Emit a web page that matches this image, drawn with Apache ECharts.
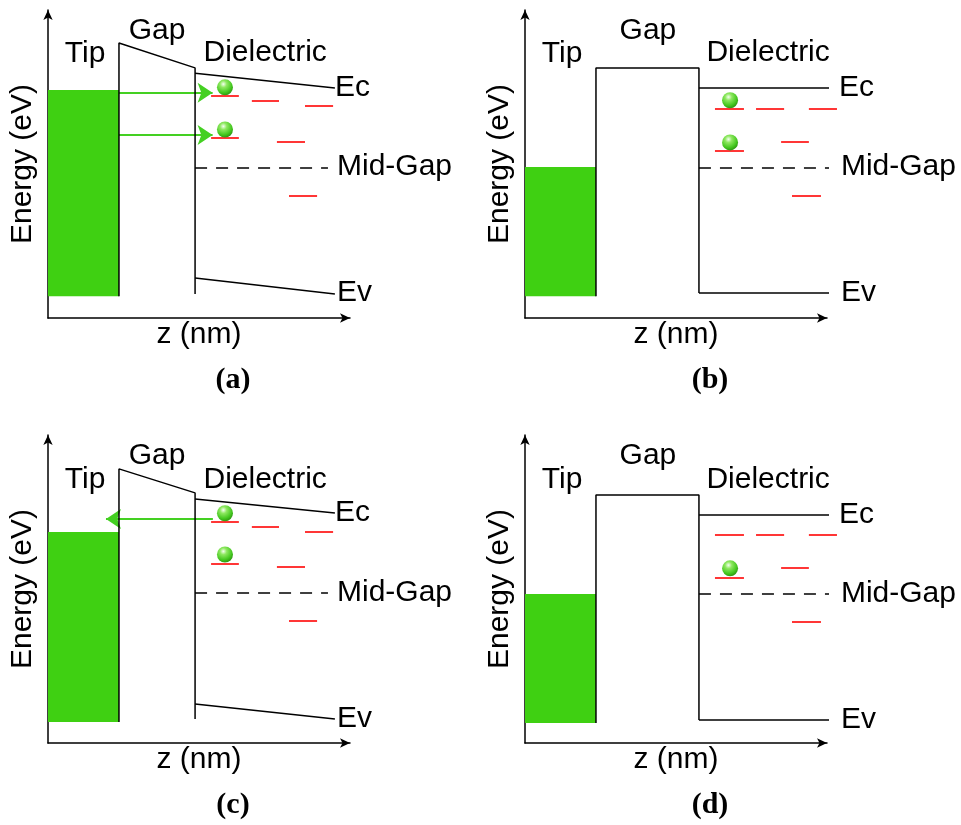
<!DOCTYPE html>
<html>
<head>
<meta charset="utf-8">
<script src="https://cdn.jsdelivr.net/npm/echarts@6/dist/echarts.min.js"></script>
<style>
html, body { margin: 0; padding: 0; background: #fff; }
#chart { width: 961px; height: 825px; }
</style>
</head>
<body>
<div id="chart"></div>
<script>
// panel order: (a) (b) (c) (d); z in arbitrary nm units 0..10, energy 0..10 eV
const panelNames = ['(a)', '(b)', '(c)', '(d)'];

// tip band: [x right edge, bottom, Fermi level]
const tipBand = [[2.35, 0.71, 7.40], [2.35, 0.71, 4.90], [2.35, 0.68, 6.85], [2.35, 0.65, 4.84]];

// vacuum barrier outline (left wall, top, right wall)
const barrier = [
  [[2.35, 0.71], [2.35, 8.93], [4.87, 8.12], [4.87, 0.78]],
  [[2.35, 0.71], [2.35, 8.12], [5.76, 8.12], [5.76, 0.81]],
  [[2.35, 0.68], [2.35, 8.90], [4.87, 8.12], [4.87, 0.78]],
  [[2.35, 0.65], [2.35, 8.05], [5.76, 8.05], [5.76, 0.75]]
];

const ecLine = [
  [[4.87, 7.95], [9.50, 7.47]],
  [[5.76, 7.47], [10.33, 7.47]],
  [[4.87, 7.92], [9.50, 7.47]],
  [[5.76, 7.40], [10.33, 7.40]]
];
const evLine = [
  [[4.87, 1.30], [9.50, 0.78]],
  [[5.76, 0.81], [10.33, 0.81]],
  [[4.87, 1.27], [9.50, 0.78]],
  [[5.76, 0.75], [10.33, 0.75]]
];
const midGapLine = [
  [[4.87, 4.87], [9.27, 4.87]],
  [[5.76, 4.87], [10.17, 4.87]],
  [[4.87, 4.87], [9.27, 4.87]],
  [[5.76, 4.84], [10.17, 4.84]]
];

// trap levels: [x start, x end, energy]
const traps = [
  [[5.40, 6.32, 7.21], [6.75, 7.65, 7.05], [8.51, 9.44, 6.88], [5.40, 6.32, 5.84], [7.58, 8.51, 5.71], [7.98, 8.91, 3.96]],
  [[6.29, 7.25, 6.79], [7.65, 8.58, 6.79], [9.40, 10.33, 6.79], [6.29, 7.25, 5.42], [8.48, 9.40, 5.71], [8.84, 9.80, 3.96]],
  [[5.40, 6.32, 7.18], [6.75, 7.65, 7.01], [8.51, 9.44, 6.85], [5.40, 6.32, 5.81], [7.58, 8.51, 5.71], [7.98, 8.91, 3.96]],
  [[6.29, 7.25, 6.75], [7.65, 8.58, 6.75], [9.40, 10.33, 6.75], [6.29, 7.25, 5.36], [8.48, 9.40, 5.68], [8.84, 9.80, 3.93]]
];

// trapped electrons
const electrons = [
  [[5.86, 7.49], [5.86, 6.12]],
  [[6.79, 7.07], [6.79, 5.70]],
  [[5.86, 7.46], [5.86, 6.12]],
  [[6.79, 5.67]]
];

// tunnelling arrows: [from, to]
const arrows = [
  [[[2.35, 7.31], [5.45, 7.31]], [[2.35, 5.94], [5.45, 5.94]]],
  [],
  [[[5.46, 7.27], [1.92, 7.27]]],
  []
];

// text labels: [text, x, y, align]
const labels = [
  [['Tip', 1.23, 8.59, 'center'], ['Gap', 3.61, 9.33, 'center'], ['Dielectric', 7.19, 8.62, 'center'],
   ['Ec', 9.50, 7.47, 'left'], ['Mid-Gap', 9.57, 4.90, 'left'], ['Ev', 9.57, 0.81, 'left']],
  [['Tip', 1.23, 8.59, 'center'], ['Gap', 4.07, 9.33, 'center'], ['Dielectric', 8.05, 8.62, 'center'],
   ['Ec', 10.40, 7.47, 'left'], ['Mid-Gap', 10.46, 4.90, 'left'], ['Ev', 10.46, 0.81, 'left']],
  [['Tip', 1.23, 8.54, 'center'], ['Gap', 3.61, 9.32, 'center'], ['Dielectric', 7.19, 8.54, 'center'],
   ['Ec', 9.50, 7.47, 'left'], ['Mid-Gap', 9.57, 4.87, 'left'], ['Ev', 9.57, 0.78, 'left']],
  [['Tip', 1.23, 8.54, 'center'], ['Gap', 4.07, 9.32, 'center'], ['Dielectric', 8.05, 8.54, 'center'],
   ['Ec', 10.40, 7.40, 'left'], ['Mid-Gap', 10.46, 4.84, 'left'], ['Ev', 10.46, 0.75, 'left']]
];

const FONT = '"Liberation Sans", Arial, sans-serif';
const GREEN = '#3fd012';
const gridPos = [[48, 10], [525, 10], [48, 435], [525, 435]];

const chart = echarts.init(document.getElementById('chart'));

const grid = gridPos.map(p => ({ left: p[0], top: p[1], width: 302, height: 308 }));

const axisLine = {
  show: true,
  onZero: false,
  symbol: ['none', 'arrow'],
  symbolSize: [7, 10],
  lineStyle: { color: '#000', width: 1.5 }
};

const xAxis = grid.map((g, i) => ({
  type: 'value', gridIndex: i, min: 0, max: 10,
  axisLine, axisTick: { show: false }, axisLabel: { show: false }, splitLine: { show: false },
  name: 'z (nm)', nameLocation: 'middle', nameGap: 2,
  nameTextStyle: { fontSize: 30, color: '#000', fontFamily: FONT }
}));

const yAxis = grid.map((g, i) => ({
  type: 'value', gridIndex: i, min: 0, max: 10,
  axisLine, axisTick: { show: false }, axisLabel: { show: false }, splitLine: { show: false },
  name: 'Energy (eV)', nameLocation: 'middle', nameGap: 10, nameRotate: 90,
  nameTextStyle: { fontSize: 30, color: '#000', fontFamily: FONT }
}));

const ballColor = {
  type: 'radial', x: 0.4, y: 0.3, r: 0.7,
  colorStops: [
    { offset: 0, color: '#f4fff0' },
    { offset: 0.3, color: '#8ee860' },
    { offset: 0.75, color: '#45c820' },
    { offset: 1, color: '#2f9a12' }
  ]
};

const series = [];
panelNames.forEach((name, i) => {
  const ax = { xAxisIndex: i, yAxisIndex: i };
  const tb = tipBand[i];
  // tip occupied states + barrier outline
  series.push({
    type: 'line', ...ax, data: barrier[i], symbol: 'none', clip: false,
    lineStyle: { color: '#000', width: 1.5 },
    markArea: {
      silent: true,
      itemStyle: { color: GREEN, opacity: 1 },
      data: [[{ coord: [0, tb[1]] }, { coord: [tb[0], tb[2]] }]]
    },
    z: 3
  });
  series.push({ type: 'line', ...ax, data: ecLine[i], symbol: 'none', clip: false, lineStyle: { color: '#000', width: 1.5 } });
  series.push({ type: 'line', ...ax, data: evLine[i], symbol: 'none', clip: false, lineStyle: { color: '#000', width: 1.5 } });
  series.push({ type: 'line', ...ax, data: midGapLine[i], symbol: 'none', clip: false, lineStyle: { color: '#000', width: 1.5, type: [12, 9] } });
  series.push({
    type: 'lines', coordinateSystem: 'cartesian2d', ...ax, clip: false,
    data: traps[i].map(t => ({ coords: [[t[0], t[2]], [t[1], t[2]]] })),
    lineStyle: { color: '#ff2020', width: 1.8, opacity: 1 }
  });
  if (arrows[i].length) {
    series.push({
      type: 'lines', coordinateSystem: 'cartesian2d', ...ax, clip: false,
      symbol: ['none', 'arrow'], symbolSize: 15,
      data: arrows[i].map(a => ({ coords: a })),
      lineStyle: { color: '#44d022', width: 2, opacity: 1 }
    });
  }
  series.push({
    type: 'scatter', ...ax, clip: false, symbolSize: 16,
    data: electrons[i], itemStyle: { color: ballColor, opacity: 1 }, z: 5
  });
  series.push({
    type: 'scatter', ...ax, clip: false, symbolSize: 0,
    itemStyle: { color: '#000', opacity: 1 },
    data: labels[i].map(l => ({
      value: [l[1], l[2]],
      label: {
        show: true, formatter: l[0],
        position: l[3] === 'left' ? 'right' : 'inside',
        distance: 0,
        color: '#000', textBorderWidth: 0, fontSize: 30, fontFamily: FONT
      }
    }))
  });
});

const graphic = panelNames.map((name, i) => ({
  type: 'text',
  x: gridPos[i][0] + 185,
  y: gridPos[i][1] + 370,
  style: {
    text: name, fill: '#000', align: 'center', verticalAlign: 'middle',
    font: 'bold 30px "Liberation Serif", "Times New Roman", serif'
  }
}));

chart.setOption({
  animation: false,
  backgroundColor: '#fff',
  grid, xAxis, yAxis, series, graphic
});
</script>
</body>
</html>
